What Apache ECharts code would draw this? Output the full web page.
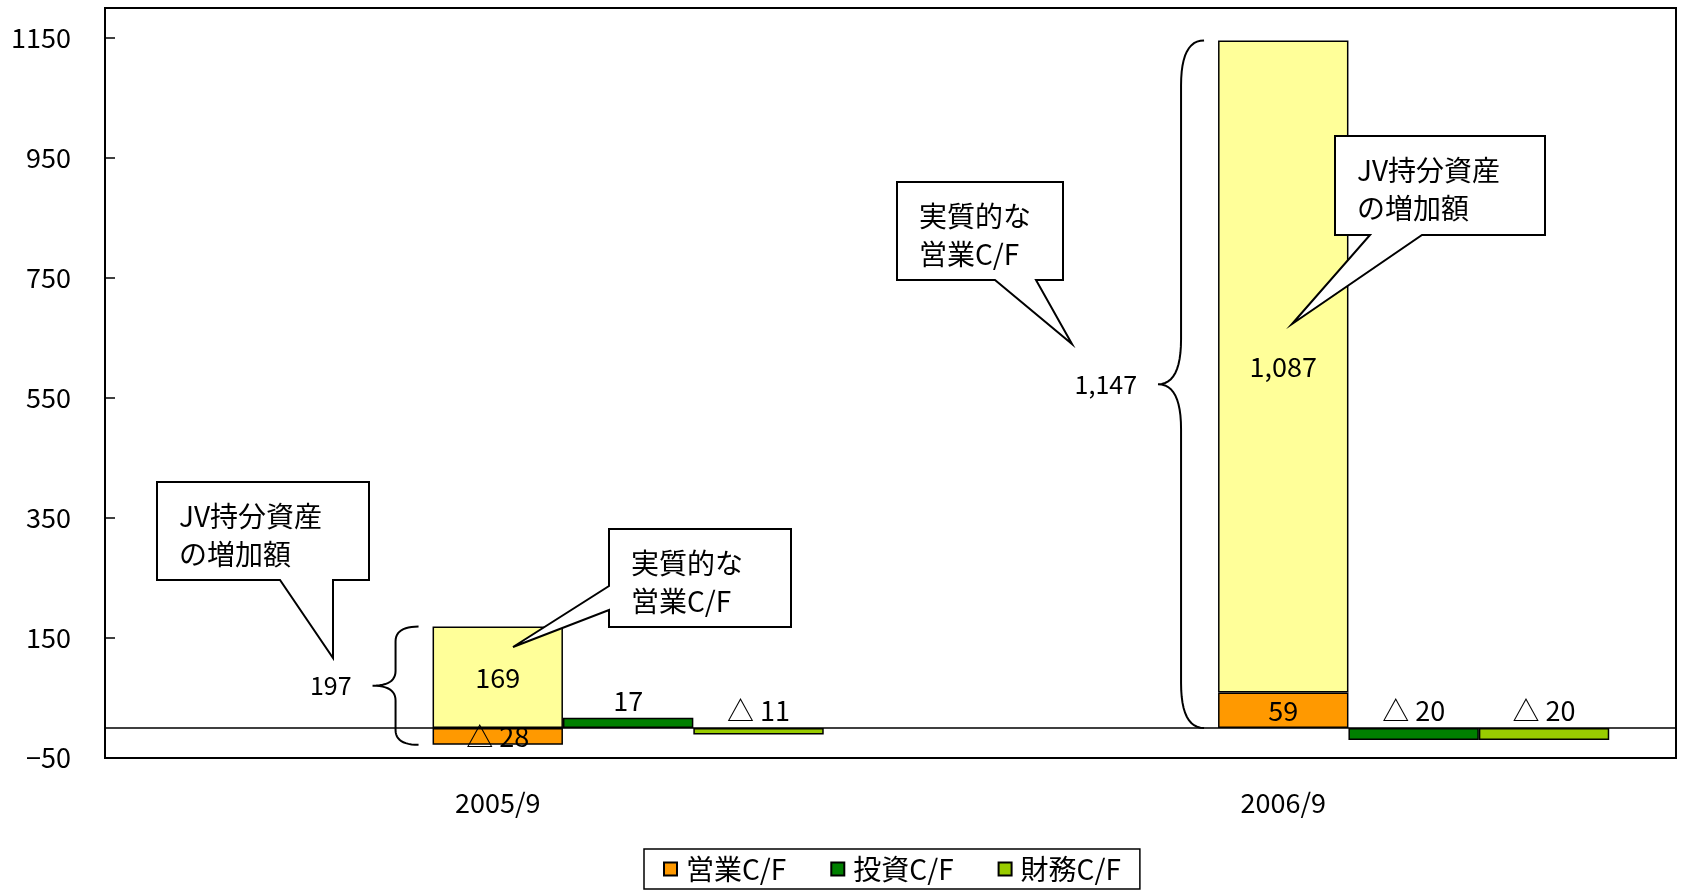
<!DOCTYPE html>
<html>
<head>
<meta charset="utf-8">
<script src="https://cdn.jsdelivr.net/npm/echarts@6/dist/echarts.min.js"></script>
<style>
  html, body { margin: 0; padding: 0; background: #fff; }
  #main { width: 1681px; height: 893px; }
</style>
</head>
<body>
<div id="main"></div>
<script>
// 値（億円）
const categories = ["2005/9", "2006/9"];
const eigyoCF = [-28, 59];         // 営業C/F
const jvZoka = [169, 1087];        // JV持分資産の増加額
const toushiCF = [17, -20];        // 投資C/F
const zaimuCF = [-11, -20];        // 財務C/F
const braceTotals = [197, 1147];   // 実質的な営業C/F（括弧の値）
const yTicks = [-50, 150, 350, 550, 750, 950, 1150];

const FONT = '"Noto Sans CJK JP", "Noto Sans", sans-serif';
const BLACK = "#000";

// 負の値は △ 表示
function fmt(v) {
  const n = Math.abs(v).toLocaleString("en-US");
  return v < 0 ? "△ " + n : n;
}

const labelBase = {
  show: true,
  color: BLACK,
  fontFamily: FONT,
  fontSize: 27,
  formatter: function(p) { return fmt(p.value); }
};
const border = { borderColor: BLACK, borderWidth: 1.5 };

var chart = echarts.init(document.getElementById("main"));

const option = {
  animation: false,
  backgroundColor: "#fff",
  grid: {
    left: 105, right: 5, top: 8, bottom: 135,
    show: true, borderColor: BLACK, borderWidth: 2, backgroundColor: "#fff"
  },
  legend: {
    data: ["営業C/F", "投資C/F", "財務C/F"],
    left: 644, top: 849,
    icon: "rect", itemWidth: 13, itemHeight: 13, itemGap: 44,
    padding: [6, 19],
    borderColor: BLACK, borderWidth: 1.5,
    textStyle: { fontSize: 28, fontFamily: FONT, color: BLACK, padding: [0, 0, 0, 4] }
  },
  xAxis: [
    {
      type: "category",
      data: categories,
      axisLine: { onZero: true, lineStyle: { color: BLACK, width: 1.5 } },
      axisTick: { inside: true, length: 10, lineStyle: { color: BLACK, width: 1.5 } },
      axisLabel: { show: false }
    },
    {
      type: "category",
      data: categories,
      position: "bottom",
      axisLine: { show: false, onZero: false },
      axisTick: { show: false },
      axisLabel: { color: BLACK, fontFamily: FONT, fontSize: 27, margin: 31 }
    }
  ],
  yAxis: {
    type: "value",
    min: -50,
    max: 1200,
    splitLine: { show: false },
    axisLine: { show: true, lineStyle: { color: BLACK, width: 2 } },
    axisTick: { show: true, inside: true, length: 10, customValues: yTicks, lineStyle: { color: BLACK, width: 1.5 } },
    axisLabel: {
      customValues: yTicks, color: BLACK, fontFamily: FONT, fontSize: 27, margin: 34,
      formatter: function(v) { return v < 0 ? "\u2212" + Math.abs(v) : String(v); }
    }
  },
  series: [
    // 空きスロット（元のグラフの配置に合わせる）
    { name: "pad1", type: "bar", stack: "pad1", data: [], barGap: "0%", barCategoryGap: "17%" },
    { name: "pad2", type: "bar", stack: "pad2", data: [] },
    {
      name: "営業C/F", type: "bar", stack: "cf", data: eigyoCF,
      itemStyle: Object.assign({ color: "#FF9900" }, border),
      label: Object.assign({ position: "inside" }, labelBase)
    },
    {
      name: "JV持分資産の増加額", type: "bar", stack: "cf", data: jvZoka,
      itemStyle: Object.assign({ color: "#FFFF99" }, border),
      label: Object.assign({ position: "inside" }, labelBase)
    },
    {
      name: "投資C/F", type: "bar", stack: "inv", data: toushiCF,
      itemStyle: Object.assign({ color: "#008000" }, border),
      label: Object.assign({ position: "top", distance: 4 }, labelBase)
    },
    {
      name: "財務C/F", type: "bar", stack: "fin", data: zaimuCF,
      itemStyle: Object.assign({ color: "#99CC00" }, border),
      label: Object.assign({ position: "top", distance: 4 }, labelBase)
    }
  ]
};

chart.setOption(option);

// 括弧（{）の折れ線点列
function quad(pts, p0, c, p1) {
  for (var k = 1; k <= 12; k++) {
    var t = k / 12, u = 1 - t;
    pts.push([u * u * p0[0] + 2 * u * t * c[0] + t * t * p1[0],
              u * u * p0[1] + 2 * u * t * c[1] + t * t * p1[1]]);
  }
}
function bracePoints(xe, yt, yb, xv, xp) {
  var ym = (yt + yb) / 2;
  var r = Math.min(45, (yb - yt) / 8);
  var pts = [[xe, yt]];
  quad(pts, [xe, yt], [xv, yt], [xv, yt + r]);
  pts.push([xv, ym - r]);
  quad(pts, [xv, ym - r], [xv, ym], [xp, ym]);
  quad(pts, [xp, ym], [xv, ym], [xv, ym + r]);
  pts.push([xv, yb - r]);
  quad(pts, [xv, yb - r], [xv, yb], [xe, yb]);
  return pts;
}

var graphics = [];
var cfData = chart.getModel().getSeriesByName("営業C/F")[0].getData();
categories.forEach(function(c, i) {
  var lay = cfData.getItemLayout(i);
  var yt = chart.convertToPixel({ yAxisIndex: 0 }, Math.max(0, eigyoCF[i]) + jvZoka[i]);
  var yb = chart.convertToPixel({ yAxisIndex: 0 }, Math.min(0, eigyoCF[i]));
  var xe = lay.x - 14, xv = lay.x - 37, xp = lay.x - 60;
  graphics.push({
    type: "polyline",
    shape: { points: bracePoints(xe, yt, yb, xv, xp) },
    style: { fill: null, stroke: BLACK, lineWidth: 2 },
    z: 50
  });
  graphics.push({
    type: "text",
    x: xp - 21, y: (yt + yb) / 2,
    style: { text: fmt(braceTotals[i]), fontSize: 25, fontFamily: FONT, fill: BLACK, align: "right", verticalAlign: "middle" },
    z: 50
  });
});

// 吹き出し
function callout(box, tail, text) {
  var l = box[0], t = box[1], r = box[2], b = box[3];
  var pts;
  if (tail.side === "bottom") {
    pts = [[l, t], [r, t], [r, b], [tail.a[1], b], tail.tip, [tail.a[0], b], [l, b]];
  } else {
    pts = [[l, t], [r, t], [r, b], [l, b], [l, tail.a[1]], tail.tip, [l, tail.a[0]]];
  }
  graphics.push({
    type: "polygon",
    shape: { points: pts },
    style: { fill: "#fff", stroke: BLACK, lineWidth: 2 },
    z: 100
  });
  graphics.push({
    type: "text",
    x: l + 22, y: t + 15,
    style: { text: text, fontSize: 28, fontFamily: FONT, fill: BLACK, lineHeight: 38, verticalAlign: "top" },
    z: 101
  });
}

callout([157, 482, 369, 580], { side: "bottom", a: [280, 333], tip: [333, 658] }, "JV持分資産\nの増加額");
callout([609, 529, 791, 627], { side: "left", a: [586, 610], tip: [513, 647] }, "実質的な\n営業C/F");
callout([897, 182, 1063, 280], { side: "bottom", a: [995, 1036], tip: [1072, 344] }, "実質的な\n営業C/F");
callout([1335, 136, 1545, 235], { side: "bottom", a: [1370, 1422], tip: [1292, 324] }, "JV持分資産\nの増加額");

chart.setOption({ graphic: graphics });
</script>
</body>
</html>
